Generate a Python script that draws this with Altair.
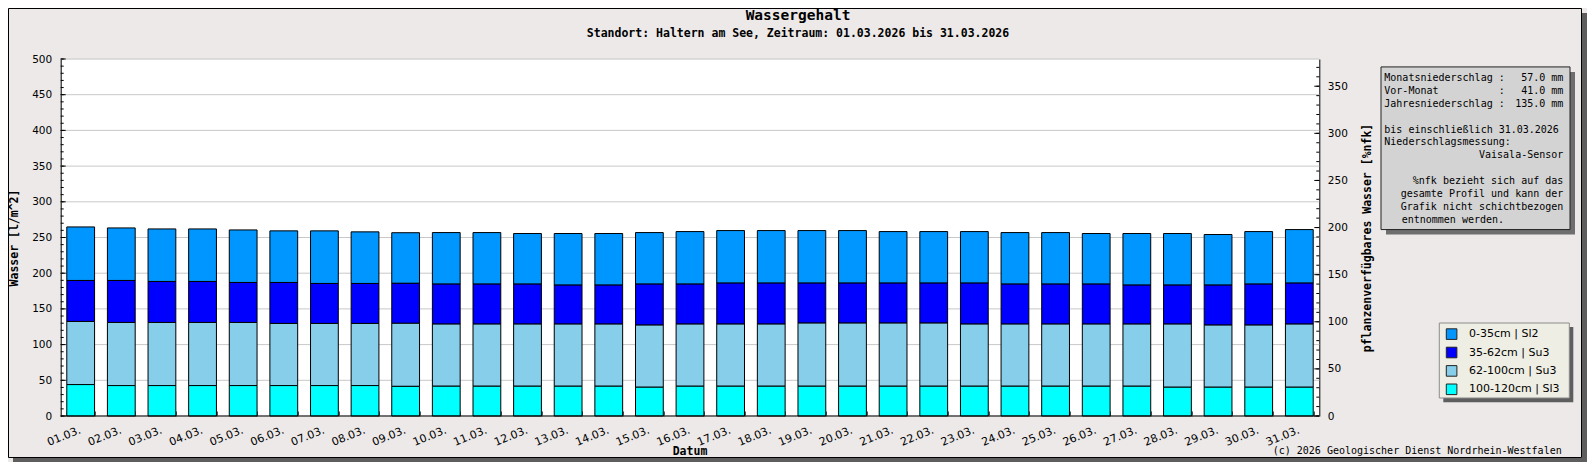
import altair as alt
import pandas as pd

# ---------------- data ----------------
dates = ["01.03.", "02.03.", "03.03.", "04.03.", "05.03.", "06.03.", "07.03.", "08.03.",
         "09.03.", "10.03.", "11.03.", "12.03.", "13.03.", "14.03.", "15.03.", "16.03.",
         "17.03.", "18.03.", "19.03.", "20.03.", "21.03.", "22.03.", "23.03.", "24.03.",
         "25.03.", "26.03.", "27.03.", "28.03.", "29.03.", "30.03.", "31.03."]

layers = ["0-35cm | Sl2", "35-62cm | Su3", "62-100cm | Su3", "100-120cm | Sl3"]
colors = ["#0096FF", "#0000FF", "#87CEEB", "#00FFFF"]

v_0_35 = [75.0, 73.6, 73.6, 73.6, 73.6, 72.3, 73.7, 72.3, 70.9, 72.2, 72.2, 70.9, 72.3, 72.3, 72.2, 73.6,
          73.6, 73.6, 73.6, 73.6, 72.2, 72.2, 72.2, 72.2, 72.2, 70.9, 72.3, 72.3, 70.9, 73.6, 75.0]
v_35_62 = [57.4, 58.8, 57.4, 57.4, 56.0, 57.4, 56.0, 56.0, 56.0, 56.0, 56.0, 56.0, 54.6, 54.6, 57.4, 56.0,
           57.4, 57.4, 56.0, 56.0, 56.0, 56.0, 57.4, 56.0, 56.0, 56.0, 54.6, 54.6, 56.0, 57.4, 57.4]
v_62_100 = [88.4, 88.4, 88.4, 88.4, 88.4, 87.0, 87.0, 87.0, 88.3, 87.0, 87.0, 87.0, 87.0, 87.0, 87.0, 87.0,
            87.0, 87.0, 88.4, 88.4, 88.4, 88.4, 87.0, 87.0, 87.0, 87.0, 87.0, 88.4, 87.0, 87.0, 88.4]
v_100_120 = [44.0, 42.6, 42.6, 42.6, 42.6, 42.6, 42.6, 42.6, 41.5, 41.7, 41.7, 41.7, 41.7, 41.7, 40.3, 41.7,
             41.7, 41.7, 41.7, 41.7, 41.7, 41.7, 41.7, 41.7, 41.7, 41.7, 41.7, 40.3, 40.3, 40.3, 40.3]
series = [v_0_35, v_35_62, v_62_100, v_100_120]

left_ticks = [0, 50, 100, 150, 200, 250, 300, 350, 400, 450, 500]
right_ticks = [0, 50, 100, 150, 200, 250, 300, 350]
left_minor = list(range(0, 501, 10))
right_minor = list(range(0, 371, 10))
Y_MAX = 500      # left axis maximum  [l/m^2]
R_MAX = 378.9    # right axis value at the top of the plot [%nfk]

title_text = "Wassergehalt"
subtitle_text = "Standort: Haltern am See, Zeitraum: 01.03.2026 bis 31.03.2026"
copyright_text = "(c) 2026 Geologischer Dienst Nordrhein-Westfalen"
info_rows = [
    ("Monatsniederschlag", ":", "57.0 mm"),
    ("Vor-Monat", ":", "41.0 mm"),
    ("Jahresniederschlag", ":", "135.0 mm"),
]
info_left = [(4, "bis einschließlich 31.03.2026"), (5, "Niederschlagsmessung:")]
info_right = [(6, "Vaisala-Sensor"), (8, "%nfk bezieht sich auf das"),
              (9, "gesamte Profil und kann der"), (10, "Grafik nicht schichtbezogen")]
info_last = (11, "entnommen werden.")

rows = []
for i, (name, vals) in enumerate(zip(layers, series)):
    for d, v in zip(dates, vals):
        rows.append({"Datum": d, "Schicht": name, "Wasser": v, "idx": i})
df = pd.DataFrame(rows)

# right-axis ticks expressed on the shared (left) scale
r_factor = Y_MAX / R_MAX
right_major_pos = [r * r_factor for r in right_ticks]
right_minor_pos = [r * r_factor for r in right_minor]

# ---------------- layout ----------------
TOT_W, TOT_H = 1579, 454
PAD_L, PAD_T = 52.7, 51.0
W, H = 1258.6, 357.0
PAD_R = TOT_W - PAD_L - W
PAD_B = TOT_H - PAD_T - H
BG = "#ECE9E8"
MONO = "DejaVu Sans Mono"
SANS = "DejaVu Sans"


def rx(x_ref):
    return x_ref - 60.7


def ry(y_ref):
    return (y_ref - 60.0) * H / 360.0


def sx(x_svg):
    return x_svg - PAD_L


def sy(y_svg):
    return y_svg - PAD_T


one = pd.DataFrame({"k": [0]})


def box(x, x2, y, y2, **kw):
    return alt.Chart(one).mark_rect(**kw).encode(
        x=alt.value(x), x2=alt.value(x2), y=alt.value(y), y2=alt.value(y2))


def txt(s, x, y, **kw):
    style = dict(font=MONO, fontSize=10, color="black", baseline="middle", align="left")
    style.update(kw)
    return alt.Chart(pd.DataFrame({"t": [s]})).mark_text(**style).encode(
        text="t:N", x=alt.value(x), y=alt.value(y))


yl = alt.Scale(domain=[0, Y_MAX], nice=False, zero=True)

x_axis = alt.Axis(title=None, labelAngle=338, labelAlign="right", labelBaseline="top",
                  labelPadding=8, labelOffset=-3, ticks=True, tickSize=5, tickColor="black",
                  tickBand="extent", offset=-5, domain=False, grid=False, labelFont=SANS,
                  labelFontSize=11, labelColor="black", labelOverlap=False)

left_axis = alt.Axis(orient="left", values=left_ticks, ticks=False, tickSize=0, grid=False,
                     domain=True, domainColor="black", domainWidth=1, labelFont=SANS,
                     labelFontSize=10.5, labelColor="black", labelPadding=9,
                     title="Wasser [l/m^2]", titleFont=MONO, titleFontSize=11.5,
                     titleFontWeight="bold", titleColor="black", titleAngle=270,
                     titleX=-46.5, titleY=H / 2, titleAlign="center", titleBaseline="middle")

right_axis = alt.Axis(orient="right", values=right_major_pos, ticks=False, tickSize=0, grid=False,
                      domain=True, domainColor="black", domainWidth=1, labelFont=SANS,
                      labelFontSize=10.5, labelColor="black", labelPadding=8,
                      labelExpr="format(datum.value * %s / %s, '.0f')" % (R_MAX, Y_MAX),
                      title="pflanzenverfügbares Wasser [%nfk]", titleFont=MONO,
                      titleFontSize=11.5, titleFontWeight="bold", titleColor="black",
                      titleAngle=270, titleX=48, titleY=H / 2, titleAlign="center",
                      titleBaseline="middle")

legend = alt.Legend(orient="none", legendX=rx(1443.0), legendY=ry(322.7) + 6.0, title=None,
                    fillColor="transparent", strokeColor="transparent", padding=2.6,
                    symbolType="square", symbolSize=112, symbolStrokeColor="#222222",
                    symbolStrokeWidth=1, labelFont=SANS, labelFontSize=11, labelColor="black",
                    labelOffset=11.4, rowPadding=2.4, cornerRadius=0)

# ---------------- plot layers ----------------
grid = alt.Chart(pd.DataFrame({"v": left_ticks})).mark_rule(color="#C8C8C8", strokeWidth=1).encode(
    y=alt.Y("v:Q", scale=yl, axis=None), x=alt.value(0), x2=alt.value(W))

bars = alt.Chart(df).mark_bar(stroke="black", strokeWidth=1, opacity=1).encode(
    x=alt.X("Datum:N", sort=dates, scale=alt.Scale(paddingInner=0.316, paddingOuter=0.15), axis=x_axis),
    y=alt.Y("Wasser:Q", stack="zero", scale=yl, axis=left_axis),
    color=alt.Color("Schicht:N", scale=alt.Scale(domain=layers, range=colors), legend=legend),
    order=alt.Order("idx:Q", sort="descending"),
)

base_line = alt.Chart(pd.DataFrame({"v": [0]})).mark_rule(color="black", strokeWidth=1).encode(
    y=alt.Y("v:Q", scale=yl, axis=None), x=alt.value(0), x2=alt.value(W))

lmaj = alt.Chart(pd.DataFrame({"v": left_ticks})).mark_rule(color="black", strokeWidth=1).encode(
    y=alt.Y("v:Q", scale=yl, axis=None), x=alt.value(0), x2=alt.value(5))
lmin = alt.Chart(pd.DataFrame({"v": left_minor})).mark_rule(color="black", strokeWidth=1).encode(
    y=alt.Y("v:Q", scale=yl, axis=None), x=alt.value(0), x2=alt.value(3))

rmaj = alt.Chart(pd.DataFrame({"v": right_major_pos})).mark_rule(color="black", strokeWidth=1).encode(
    y=alt.Y("v:Q", scale=yl, axis=right_axis), x=alt.value(W - 5), x2=alt.value(W))
rmin = alt.Chart(pd.DataFrame({"v": right_minor_pos})).mark_rule(color="black", strokeWidth=1).encode(
    y=alt.Y("v:Q", scale=yl, axis=None), x=alt.value(W - 3), x2=alt.value(W))

# ---------------- decorations ----------------
SHADOW = "#5E5E5E"
frame_parts = [
    box(sx(TOT_W - 5), sx(TOT_W), sy(5), sy(TOT_H), fill=SHADOW),
    box(sx(5), sx(TOT_W), sy(TOT_H - 4), sy(TOT_H), fill=SHADOW),
    box(sx(0.5), sx(TOT_W - 5.5), sy(0.5), sy(TOT_H - 4.5), fillOpacity=0, stroke="black", strokeWidth=1),
]

info_parts = [
    box(rx(1386), rx(1575), ry(73), ry(237), fill="#6E6E6E"),
    box(rx(1381), rx(1570), ry(68), ry(232), fill="#D3D3D3", stroke="#222222", strokeWidth=1),
]
col0 = rx(1384.3)
col_colon = col0 + 19 * 6.02
col_right = rx(1563.3)


def line_y(i):
    return ry(78.7 + 13.1 * i)


for i, (a, b, c) in enumerate(info_rows):
    info_parts.append(txt(a, col0, line_y(i)))
    info_parts.append(txt(b, col_colon, line_y(i)))
    info_parts.append(txt(c, col_right, line_y(i), align="right"))
for i, s in info_left:
    info_parts.append(txt(s, col0, line_y(i)))
for i, s in info_right:
    info_parts.append(txt(s, col_right, line_y(i), align="right"))
info_parts.append(txt(info_last[1], rx(1401.7), line_y(info_last[0])))

legend_box = [
    box(rx(1443.3), rx(1573.3), ry(326.7) + 3.5, ry(402.7) + 3.5, fill=SHADOW),
    box(rx(1439.3), rx(1569.3), ry(322.7) + 3.5, ry(398.3) + 3.5, fill="#EEEEE4", stroke="#8C8C8C", strokeWidth=1),
]

texts = [
    txt(title_text, rx(798), sy(7.5), font=MONO, fontSize=14.5, fontWeight="bold", align="center"),
    txt(subtitle_text, rx(798), sy(26), font=MONO, fontSize=11.5, fontWeight="bold", align="center"),
    txt("Datum", W / 2, sy(443.5), font=MONO, fontSize=11.5, fontWeight="bold", align="center"),
    txt(copyright_text, rx(1561.7), sy(442.5), font=MONO, fontSize=10, align="right"),
]

chart = alt.layer(
    *frame_parts, grid, bars, base_line, lmaj, lmin, rmaj, rmin,
    *info_parts, *legend_box, *texts
).resolve_axis(y="independent").properties(
    width=W, height=H,
    autosize=alt.AutoSizeParams(type="none"),
    padding={"left": PAD_L, "top": PAD_T, "right": PAD_R, "bottom": PAD_B},
    background=BG,
).configure_view(fill="white", stroke="transparent")

chart.save("out.html", embed_options={"renderer": "svg", "actions": False})
